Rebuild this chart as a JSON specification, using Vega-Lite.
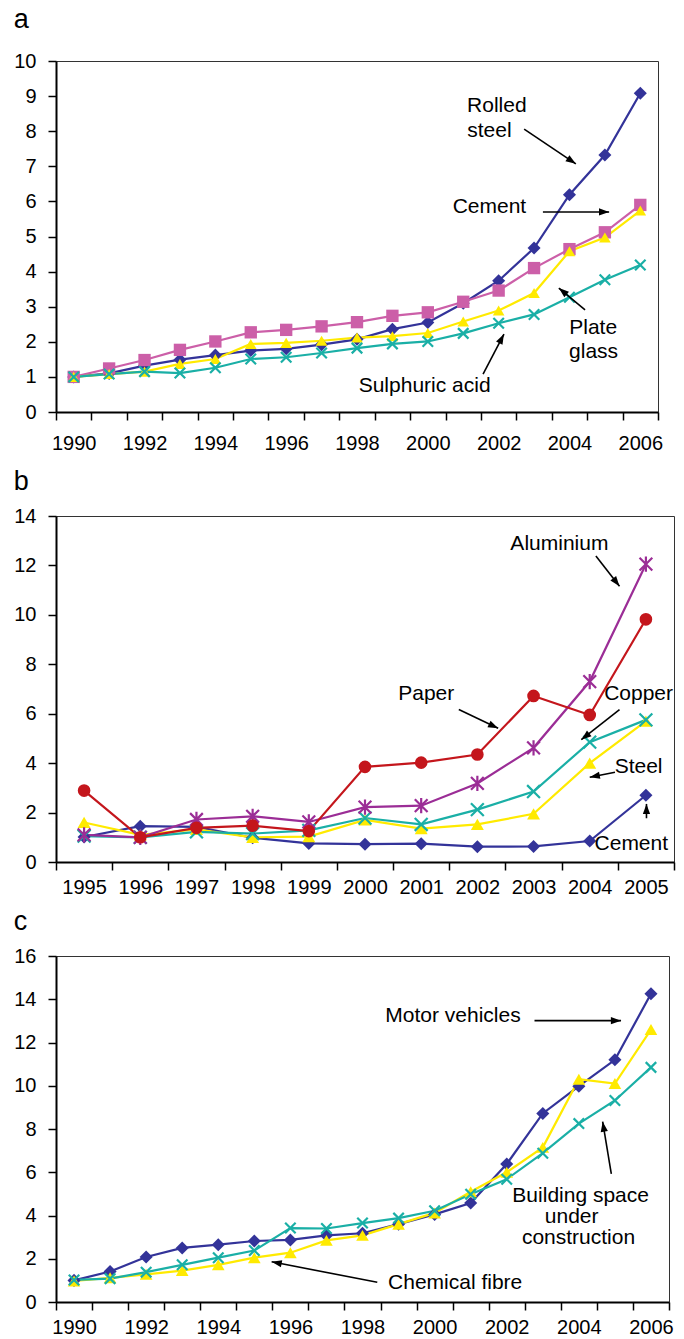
{
  "$schema": "https://vega.github.io/schema/vega-lite/v6.json",
  "background": "white",
  "autosize": {"type": "pad"},
  "padding": {"left": 13, "top": 5, "right": 5, "bottom": 2},
  "config": {
    "font": "Liberation Sans",
    "view": {"stroke": "#333333", "strokeWidth": 1},
    "axis": {"domainColor": "#000000", "domainWidth": 2, "tickColor": "#000000", "tickWidth": 1.5, "labelFont": "Liberation Sans", "labelFontSize": 20, "labelColor": "#000000", "grid": false},
    "title": {"anchor": "start", "fontSize": 27, "fontWeight": "normal", "color": "#000000", "font": "Liberation Sans", "baseline": "alphabetic"}
  },
  "datasets": {
    "a": [
      {"year": 1990, "series": "Rolled steel", "value": 1.0}, {"year": 1991, "series": "Rolled steel", "value": 1.1}, {"year": 1992, "series": "Rolled steel", "value": 1.32}, {"year": 1993, "series": "Rolled steel", "value": 1.49}, {"year": 1994, "series": "Rolled steel", "value": 1.62}, {"year": 1995, "series": "Rolled steel", "value": 1.75}, {"year": 1996, "series": "Rolled steel", "value": 1.8}, {"year": 1997, "series": "Rolled steel", "value": 1.92}, {"year": 1998, "series": "Rolled steel", "value": 2.07}, {"year": 1999, "series": "Rolled steel", "value": 2.36}, {"year": 2000, "series": "Rolled steel", "value": 2.55}, {"year": 2001, "series": "Rolled steel", "value": 3.1}, {"year": 2002, "series": "Rolled steel", "value": 3.74}, {"year": 2003, "series": "Rolled steel", "value": 4.67}, {"year": 2004, "series": "Rolled steel", "value": 6.19}, {"year": 2005, "series": "Rolled steel", "value": 7.32}, {"year": 2006, "series": "Rolled steel", "value": 9.08},
      {"year": 1990, "series": "Cement", "value": 1.0}, {"year": 1991, "series": "Cement", "value": 1.24}, {"year": 1992, "series": "Cement", "value": 1.48}, {"year": 1993, "series": "Cement", "value": 1.77}, {"year": 1994, "series": "Cement", "value": 2.01}, {"year": 1995, "series": "Cement", "value": 2.27}, {"year": 1996, "series": "Cement", "value": 2.34}, {"year": 1997, "series": "Cement", "value": 2.44}, {"year": 1998, "series": "Cement", "value": 2.56}, {"year": 1999, "series": "Cement", "value": 2.74}, {"year": 2000, "series": "Cement", "value": 2.84}, {"year": 2001, "series": "Cement", "value": 3.14}, {"year": 2002, "series": "Cement", "value": 3.46}, {"year": 2003, "series": "Cement", "value": 4.1}, {"year": 2004, "series": "Cement", "value": 4.64}, {"year": 2005, "series": "Cement", "value": 5.12}, {"year": 2006, "series": "Cement", "value": 5.9},
      {"year": 1990, "series": "Plate glass", "value": 1.0}, {"year": 1991, "series": "Plate glass", "value": 1.08}, {"year": 1992, "series": "Plate glass", "value": 1.15}, {"year": 1993, "series": "Plate glass", "value": 1.37}, {"year": 1994, "series": "Plate glass", "value": 1.51}, {"year": 1995, "series": "Plate glass", "value": 1.94}, {"year": 1996, "series": "Plate glass", "value": 1.97}, {"year": 1997, "series": "Plate glass", "value": 2.03}, {"year": 1998, "series": "Plate glass", "value": 2.12}, {"year": 1999, "series": "Plate glass", "value": 2.16}, {"year": 2000, "series": "Plate glass", "value": 2.25}, {"year": 2001, "series": "Plate glass", "value": 2.58}, {"year": 2002, "series": "Plate glass", "value": 2.89}, {"year": 2003, "series": "Plate glass", "value": 3.39}, {"year": 2004, "series": "Plate glass", "value": 4.58}, {"year": 2005, "series": "Plate glass", "value": 4.97}, {"year": 2006, "series": "Plate glass", "value": 5.74},
      {"year": 1990, "series": "Sulphuric acid", "value": 1.0}, {"year": 1991, "series": "Sulphuric acid", "value": 1.08}, {"year": 1992, "series": "Sulphuric acid", "value": 1.15}, {"year": 1993, "series": "Sulphuric acid", "value": 1.11}, {"year": 1994, "series": "Sulphuric acid", "value": 1.26}, {"year": 1995, "series": "Sulphuric acid", "value": 1.51}, {"year": 1996, "series": "Sulphuric acid", "value": 1.56}, {"year": 1997, "series": "Sulphuric acid", "value": 1.68}, {"year": 1998, "series": "Sulphuric acid", "value": 1.82}, {"year": 1999, "series": "Sulphuric acid", "value": 1.94}, {"year": 2000, "series": "Sulphuric acid", "value": 2.01}, {"year": 2001, "series": "Sulphuric acid", "value": 2.24}, {"year": 2002, "series": "Sulphuric acid", "value": 2.53}, {"year": 2003, "series": "Sulphuric acid", "value": 2.78}, {"year": 2004, "series": "Sulphuric acid", "value": 3.27}, {"year": 2005, "series": "Sulphuric acid", "value": 3.77}, {"year": 2006, "series": "Sulphuric acid", "value": 4.19}
    ],
    "b": [
      {"year": 1995, "series": "Cement", "value": 1.01}, {"year": 1996, "series": "Cement", "value": 1.45}, {"year": 1997, "series": "Cement", "value": 1.42}, {"year": 1998, "series": "Cement", "value": 0.98}, {"year": 1999, "series": "Cement", "value": 0.75}, {"year": 2000, "series": "Cement", "value": 0.72}, {"year": 2001, "series": "Cement", "value": 0.74}, {"year": 2002, "series": "Cement", "value": 0.62}, {"year": 2003, "series": "Cement", "value": 0.63}, {"year": 2004, "series": "Cement", "value": 0.85}, {"year": 2005, "series": "Cement", "value": 2.7},
      {"year": 1995, "series": "Steel", "value": 1.6}, {"year": 1996, "series": "Steel", "value": 1.1}, {"year": 1997, "series": "Steel", "value": 1.32}, {"year": 1998, "series": "Steel", "value": 1.0}, {"year": 1999, "series": "Steel", "value": 1.03}, {"year": 2000, "series": "Steel", "value": 1.7}, {"year": 2001, "series": "Steel", "value": 1.35}, {"year": 2002, "series": "Steel", "value": 1.52}, {"year": 2003, "series": "Steel", "value": 1.95}, {"year": 2004, "series": "Steel", "value": 4.0}, {"year": 2005, "series": "Steel", "value": 5.7},
      {"year": 1995, "series": "Copper", "value": 1.05}, {"year": 1996, "series": "Copper", "value": 1.0}, {"year": 1997, "series": "Copper", "value": 1.22}, {"year": 1998, "series": "Copper", "value": 1.15}, {"year": 1999, "series": "Copper", "value": 1.28}, {"year": 2000, "series": "Copper", "value": 1.78}, {"year": 2001, "series": "Copper", "value": 1.52}, {"year": 2002, "series": "Copper", "value": 2.12}, {"year": 2003, "series": "Copper", "value": 2.85}, {"year": 2004, "series": "Copper", "value": 4.85}, {"year": 2005, "series": "Copper", "value": 5.75},
      {"year": 1995, "series": "Aluminium", "value": 1.1}, {"year": 1996, "series": "Aluminium", "value": 1.0}, {"year": 1997, "series": "Aluminium", "value": 1.72}, {"year": 1998, "series": "Aluminium", "value": 1.85}, {"year": 1999, "series": "Aluminium", "value": 1.62}, {"year": 2000, "series": "Aluminium", "value": 2.22}, {"year": 2001, "series": "Aluminium", "value": 2.28}, {"year": 2002, "series": "Aluminium", "value": 3.18}, {"year": 2003, "series": "Aluminium", "value": 4.62}, {"year": 2004, "series": "Aluminium", "value": 7.3}, {"year": 2005, "series": "Aluminium", "value": 12.05},
      {"year": 1995, "series": "Paper", "value": 2.89}, {"year": 1996, "series": "Paper", "value": 1.0}, {"year": 1997, "series": "Paper", "value": 1.38}, {"year": 1998, "series": "Paper", "value": 1.47}, {"year": 1999, "series": "Paper", "value": 1.25}, {"year": 2000, "series": "Paper", "value": 3.85}, {"year": 2001, "series": "Paper", "value": 4.02}, {"year": 2002, "series": "Paper", "value": 4.35}, {"year": 2003, "series": "Paper", "value": 6.72}, {"year": 2004, "series": "Paper", "value": 5.95}, {"year": 2005, "series": "Paper", "value": 9.82}
    ],
    "c": [
      {"year": 1990, "series": "Motor vehicles", "value": 1.0}, {"year": 1991, "series": "Motor vehicles", "value": 1.41}, {"year": 1992, "series": "Motor vehicles", "value": 2.08}, {"year": 1993, "series": "Motor vehicles", "value": 2.5}, {"year": 1994, "series": "Motor vehicles", "value": 2.65}, {"year": 1995, "series": "Motor vehicles", "value": 2.82}, {"year": 1996, "series": "Motor vehicles", "value": 2.87}, {"year": 1997, "series": "Motor vehicles", "value": 3.08}, {"year": 1998, "series": "Motor vehicles", "value": 3.18}, {"year": 1999, "series": "Motor vehicles", "value": 3.6}, {"year": 2000, "series": "Motor vehicles", "value": 4.05}, {"year": 2001, "series": "Motor vehicles", "value": 4.58}, {"year": 2002, "series": "Motor vehicles", "value": 6.38}, {"year": 2003, "series": "Motor vehicles", "value": 8.72}, {"year": 2004, "series": "Motor vehicles", "value": 9.98}, {"year": 2005, "series": "Motor vehicles", "value": 11.2}, {"year": 2006, "series": "Motor vehicles", "value": 14.25},
      {"year": 1990, "series": "Chemical fibre", "value": 0.97}, {"year": 1991, "series": "Chemical fibre", "value": 1.12}, {"year": 1992, "series": "Chemical fibre", "value": 1.28}, {"year": 1993, "series": "Chemical fibre", "value": 1.45}, {"year": 1994, "series": "Chemical fibre", "value": 1.72}, {"year": 1995, "series": "Chemical fibre", "value": 2.05}, {"year": 1996, "series": "Chemical fibre", "value": 2.28}, {"year": 1997, "series": "Chemical fibre", "value": 2.85}, {"year": 1998, "series": "Chemical fibre", "value": 3.08}, {"year": 1999, "series": "Chemical fibre", "value": 3.6}, {"year": 2000, "series": "Chemical fibre", "value": 4.12}, {"year": 2001, "series": "Chemical fibre", "value": 5.1}, {"year": 2002, "series": "Chemical fibre", "value": 6.0}, {"year": 2003, "series": "Chemical fibre", "value": 7.15}, {"year": 2004, "series": "Chemical fibre", "value": 10.3}, {"year": 2005, "series": "Chemical fibre", "value": 10.1}, {"year": 2006, "series": "Chemical fibre", "value": 12.6},
      {"year": 1990, "series": "Building space", "value": 1.02}, {"year": 1991, "series": "Building space", "value": 1.08}, {"year": 1992, "series": "Building space", "value": 1.38}, {"year": 1993, "series": "Building space", "value": 1.72}, {"year": 1994, "series": "Building space", "value": 2.05}, {"year": 1995, "series": "Building space", "value": 2.38}, {"year": 1996, "series": "Building space", "value": 3.42}, {"year": 1997, "series": "Building space", "value": 3.4}, {"year": 1998, "series": "Building space", "value": 3.65}, {"year": 1999, "series": "Building space", "value": 3.88}, {"year": 2000, "series": "Building space", "value": 4.22}, {"year": 2001, "series": "Building space", "value": 4.98}, {"year": 2002, "series": "Building space", "value": 5.68}, {"year": 2003, "series": "Building space", "value": 6.88}, {"year": 2004, "series": "Building space", "value": 8.25}, {"year": 2005, "series": "Building space", "value": 9.32}, {"year": 2006, "series": "Building space", "value": 10.85}
    ],
    "a_labels": [
      {"year": 2001.95, "value": 8.72, "text": "Rolled"},
      {"year": 2001.74, "value": 8.01, "text": "steel"},
      {"year": 2001.74, "value": 5.84, "text": "Cement"},
      {"year": 2004.67, "value": 2.39, "text": "Plate"},
      {"year": 2004.68, "value": 1.71, "text": "glass"},
      {"year": 1999.91, "value": 0.74, "text": "Sulphuric acid"}
    ],
    "a_arrows": [
      {"year": 2002.72, "value": 8.06, "year2": 2004.18, "value2": 7.07},
      {"year": 2003.25, "value": 5.7, "year2": 2005.12, "value2": 5.7},
      {"year": 2004.44, "value": 2.91, "year2": 2003.7, "value2": 3.53},
      {"year": 2001.56, "value": 1.08, "year2": 2002.15, "value2": 2.22}
    ],
    "b_labels": [
      {"year": 2003.46, "value": 12.87, "text": "Aluminium"},
      {"year": 2001.09, "value": 6.8, "text": "Paper"},
      {"year": 2004.87, "value": 6.8, "text": "Copper"},
      {"year": 2004.87, "value": 3.85, "text": "Steel"},
      {"year": 2004.74, "value": 0.73, "text": "Cement"}
    ],
    "b_arrows": [
      {"year": 2004.11, "value": 12.38, "year2": 2004.53, "value2": 11.16},
      {"year": 2001.67, "value": 6.17, "year2": 2002.37, "value2": 5.41},
      {"year": 2004.53, "value": 6.17, "year2": 2003.85, "value2": 4.95},
      {"year": 2004.45, "value": 3.63, "year2": 2004.0, "value2": 3.43},
      {"year": 2005.01, "value": 1.77, "year2": 2005.01, "value2": 2.35}
    ],
    "c_labels": [
      {"year": 2000.51, "value": 13.24, "text": "Motor vehicles"},
      {"year": 2004.05, "value": 4.89, "text": "Building space"},
      {"year": 2003.8, "value": 3.92, "text": "under"},
      {"year": 2003.99, "value": 2.95, "text": "construction"},
      {"year": 2000.57, "value": 0.86, "text": "Chemical fibre"}
    ],
    "c_arrows": [
      {"year": 2002.77, "value": 13.01, "year2": 2005.17, "value2": 13.01},
      {"year": 2004.9, "value": 5.92, "year2": 2004.66, "value2": 8.34},
      {"year": 1998.41, "value": 0.91, "year2": 1995.48, "value2": 1.86}
    ]
  },
  "bounds": "flush",
  "spacing": 104,
  "resolve": {"scale": {"color": "independent", "shape": "independent", "size": "independent", "x": "independent", "y": "independent"}},
  "vconcat": [
    {
      "title": {"text": "a", "offset": 17},
      "width": 602,
      "height": 351,
      "encoding": {
        "x": {"field": "year", "type": "quantitative", "title": null,
              "scale": {"domain": [1989.5, 2006.5], "nice": false, "zero": false},
              "axis": {"values": [1989.5, 1990.5, 1991.5, 1992.5, 1993.5, 1994.5, 1995.5, 1996.5, 1997.5, 1998.5, 1999.5, 2000.5, 2001.5, 2002.5, 2003.5, 2004.5, 2005.5, 2006.5],
                       "labelExpr": "(datum.value - 1989.5) % 2 == 0 && datum.value < 2006 ? format(datum.value + 0.5, 'd') : ''",
                       "labelOffset": 17.7, "labelFlush": false, "labelOverlap": false, "labelBound": false, "tickSize": 8, "labelPadding": 13}},
        "y": {"field": "value", "type": "quantitative", "title": null,
              "scale": {"domain": [0, 10], "nice": false, "zero": true},
              "axis": {"values": [0, 1, 2, 3, 4, 5, 6, 7, 8, 9, 10], "tickCount": 11, "tickSize": 8, "labelPadding": 12, "labelFlush": false, "labelOverlap": false}}
      },
      "layer": [
        {
          "data": {"name": "a"},
          "mark": {"type": "line", "strokeWidth": 2.2},
          "encoding": {
            "color": {"field": "series", "type": "nominal", "legend": null,
                      "scale": {"domain": ["Rolled steel", "Cement", "Plate glass", "Sulphuric acid"], "range": ["#333399", "#CC5FA8", "#FFEA00", "#1AAFA6"]}}
          }
        },
        {
          "data": {"name": "a"},
          "transform": [{"filter": "datum.series != 'Sulphuric acid'"}],
          "mark": {"type": "point", "filled": true, "opacity": 1},
          "encoding": {
            "color": {"field": "series", "type": "nominal", "legend": null},
            "shape": {"field": "series", "type": "nominal", "legend": null,
                      "scale": {"domain": ["Rolled steel", "Cement", "Plate glass"], "range": ["diamond", "square", "triangle-up"]}},
            "size": {"field": "series", "type": "nominal", "legend": null,
                     "scale": {"domain": ["Rolled steel", "Cement", "Plate glass"], "range": [170, 135, 160]}}
          }
        },
        {
          "data": {"name": "a"},
          "transform": [{"filter": "datum.series == 'Sulphuric acid'"}],
          "mark": {"type": "point", "filled": false, "opacity": 1, "strokeWidth": 2.2, "size": 110, "shape": "M-1,-1L1,1M-1,1L1,-1"},
          "encoding": {
            "color": {"field": "series", "type": "nominal", "legend": null}
          }
        },
        {
          "data": {"name": "a_arrows"},
          "mark": {"type": "rule", "color": "#000000", "strokeWidth": 1.6},
          "encoding": {
            "x2": {"field": "year2"},
            "y2": {"field": "value2"}
          }
        },
        {
          "data": {"name": "a_arrows"},
          "transform": [
            {"calculate": "atan2((datum.year2 - datum.year) * 35.41, (datum.value2 - datum.value) * 35.1) * 180 / PI", "as": "dir"},
            {"calculate": "datum.year2", "as": "year"},
            {"calculate": "datum.value2", "as": "value"}
          ],
          "mark": {"type": "point", "filled": true, "opacity": 1, "color": "#000000", "size": 210, "shape": "M0,0L-0.5,1.4L0.5,1.4Z"},
          "encoding": {
            "angle": {"field": "dir", "type": "quantitative", "scale": null}
          }
        },
        {
          "data": {"name": "a_labels"},
          "mark": {"type": "text", "fontSize": 21, "font": "Liberation Sans", "color": "#000000", "align": "center", "baseline": "middle"},
          "encoding": {
            "text": {"field": "text"}
          }
        }
      ]
    },
    {
      "bounds": "flush",
      "spacing": 94,
      "resolve": {"scale": {"color": "independent", "shape": "independent", "size": "independent", "x": "independent", "y": "independent"}},
      "vconcat": [
        {
          "title": {"text": "b", "offset": 10},
          "width": 618,
          "height": 346,
          "encoding": {
            "x": {"field": "year", "type": "quantitative", "title": null,
                  "scale": {"domain": [1994.5, 2005.5], "nice": false, "zero": false},
                  "axis": {"values": [1994.5, 1995.5, 1996.5, 1997.5, 1998.5, 1999.5, 2000.5, 2001.5, 2002.5, 2003.5, 2004.5, 2005.5],
                           "labelExpr": "datum.value < 2005 ? format(datum.value + 0.5, 'd') : ''",
                           "labelOffset": 28.1, "labelFlush": false, "labelOverlap": false, "labelBound": false, "tickSize": 8, "labelPadding": 7}},
            "y": {"field": "value", "type": "quantitative", "title": null,
                  "scale": {"domain": [0, 14], "nice": false, "zero": true},
                  "axis": {"values": [0, 2, 4, 6, 8, 10, 12, 14], "tickSize": 8, "labelPadding": 12, "labelFlush": false, "labelOverlap": false}}
          },
          "layer": [
            {
              "data": {"name": "b"},
              "mark": {"type": "line", "strokeWidth": 2.2},
              "encoding": {
                "color": {"field": "series", "type": "nominal", "legend": null,
                          "scale": {"domain": ["Cement", "Steel", "Copper", "Aluminium", "Paper"], "range": ["#333399", "#FFEA00", "#1AAFA6", "#9B2D96", "#C4161C"]}}
              }
            },
            {
              "data": {"name": "b"},
              "transform": [{"filter": "datum.series == 'Cement' || datum.series == 'Steel'"}],
              "mark": {"type": "point", "filled": true, "opacity": 1},
              "encoding": {
                "color": {"field": "series", "type": "nominal", "legend": null},
                "shape": {"field": "series", "type": "nominal", "legend": null,
                          "scale": {"domain": ["Cement", "Steel", "Copper", "Aluminium", "Paper"], "range": ["diamond", "triangle-up", "M-1,-1L1,1M-1,1L1,-1", "M-1,-1L1,1M-1,1L1,-1M0,-1.2L0,1.2", "circle"]}},
                "size": {"field": "series", "type": "nominal", "legend": null,
                         "scale": {"domain": ["Cement", "Steel", "Copper", "Aluminium", "Paper"], "range": [170, 160, 110, 110, 130]}}
              }
            },
            {
              "data": {"name": "b"},
              "transform": [{"filter": "datum.series == 'Copper' || datum.series == 'Aluminium'"}],
              "mark": {"type": "point", "filled": false, "opacity": 1, "strokeWidth": 2.2},
              "encoding": {
                "color": {"field": "series", "type": "nominal", "legend": null},
                "shape": {"field": "series", "type": "nominal", "legend": null},
                "size": {"field": "series", "type": "nominal", "legend": null}
              }
            },
            {
              "data": {"name": "b"},
              "transform": [{"filter": "datum.series == 'Paper'"}],
              "mark": {"type": "point", "filled": true, "opacity": 1},
              "encoding": {
                "color": {"field": "series", "type": "nominal", "legend": null},
                "shape": {"field": "series", "type": "nominal", "legend": null},
                "size": {"field": "series", "type": "nominal", "legend": null}
              }
            },
            {
              "data": {"name": "b_arrows"},
              "mark": {"type": "rule", "color": "#000000", "strokeWidth": 1.6},
              "encoding": {
                "x2": {"field": "year2"},
                "y2": {"field": "value2"}
              }
            },
            {
              "data": {"name": "b_arrows"},
              "transform": [
                {"calculate": "atan2((datum.year2 - datum.year) * 56.18, (datum.value2 - datum.value) * 24.71) * 180 / PI", "as": "dir"},
                {"calculate": "datum.year2", "as": "year"},
                {"calculate": "datum.value2", "as": "value"}
              ],
              "mark": {"type": "point", "filled": true, "opacity": 1, "color": "#000000", "size": 210, "shape": "M0,0L-0.5,1.4L0.5,1.4Z"},
              "encoding": {
                "angle": {"field": "dir", "type": "quantitative", "scale": null}
              }
            },
            {
              "data": {"name": "b_labels"},
              "mark": {"type": "text", "fontSize": 21, "font": "Liberation Sans", "color": "#000000", "align": "center", "baseline": "middle"},
              "encoding": {
                "text": {"field": "text"}
              }
            }
          ]
        },
        {
          "title": {"text": "c", "offset": 10},
          "width": 613,
          "height": 346,
          "encoding": {
            "x": {"field": "year", "type": "quantitative", "title": null,
                  "scale": {"domain": [1989.5, 2006.5], "nice": false, "zero": false},
                  "axis": {"values": [1989.5, 1990.5, 1991.5, 1992.5, 1993.5, 1994.5, 1995.5, 1996.5, 1997.5, 1998.5, 1999.5, 2000.5, 2001.5, 2002.5, 2003.5, 2004.5, 2005.5, 2006.5],
                           "labelExpr": "(datum.value - 1989.5) % 2 == 0 && datum.value < 2006 ? format(datum.value + 0.5, 'd') : ''",
                           "labelOffset": 18.03, "labelFlush": false, "labelOverlap": false, "labelBound": false, "tickSize": 8, "labelPadding": 7}},
            "y": {"field": "value", "type": "quantitative", "title": null,
                  "scale": {"domain": [0, 16], "nice": false, "zero": true},
                  "axis": {"values": [0, 2, 4, 6, 8, 10, 12, 14, 16], "tickSize": 8, "labelPadding": 12, "labelFlush": false, "labelOverlap": false}}
          },
          "layer": [
            {
              "data": {"name": "c"},
              "mark": {"type": "line", "strokeWidth": 2.2},
              "encoding": {
                "color": {"field": "series", "type": "nominal", "legend": null,
                          "scale": {"domain": ["Motor vehicles", "Chemical fibre", "Building space"], "range": ["#333399", "#FFEA00", "#1AAFA6"]}}
              }
            },
            {
              "data": {"name": "c"},
              "transform": [{"filter": "datum.series != 'Building space'"}],
              "mark": {"type": "point", "filled": true, "opacity": 1},
              "encoding": {
                "color": {"field": "series", "type": "nominal", "legend": null},
                "shape": {"field": "series", "type": "nominal", "legend": null,
                          "scale": {"domain": ["Motor vehicles", "Chemical fibre"], "range": ["diamond", "triangle-up"]}},
                "size": {"field": "series", "type": "nominal", "legend": null,
                         "scale": {"domain": ["Motor vehicles", "Chemical fibre"], "range": [170, 160]}}
              }
            },
            {
              "data": {"name": "c"},
              "transform": [{"filter": "datum.series == 'Building space'"}],
              "mark": {"type": "point", "filled": false, "opacity": 1, "strokeWidth": 2.2, "size": 110, "shape": "M-1,-1L1,1M-1,1L1,-1"},
              "encoding": {
                "color": {"field": "series", "type": "nominal", "legend": null}
              }
            },
            {
              "data": {"name": "c_arrows"},
              "mark": {"type": "rule", "color": "#000000", "strokeWidth": 1.6},
              "encoding": {
                "x2": {"field": "year2"},
                "y2": {"field": "value2"}
              }
            },
            {
              "data": {"name": "c_arrows"},
              "transform": [
                {"calculate": "atan2((datum.year2 - datum.year) * 36.06, (datum.value2 - datum.value) * 21.625) * 180 / PI", "as": "dir"},
                {"calculate": "datum.year2", "as": "year"},
                {"calculate": "datum.value2", "as": "value"}
              ],
              "mark": {"type": "point", "filled": true, "opacity": 1, "color": "#000000", "size": 210, "shape": "M0,0L-0.5,1.4L0.5,1.4Z"},
              "encoding": {
                "angle": {"field": "dir", "type": "quantitative", "scale": null}
              }
            },
            {
              "data": {"name": "c_labels"},
              "mark": {"type": "text", "fontSize": 21, "font": "Liberation Sans", "color": "#000000", "align": "center", "baseline": "middle"},
              "encoding": {
                "text": {"field": "text"}
              }
            }
          ]
        }
      ]
    }
  ]
}
